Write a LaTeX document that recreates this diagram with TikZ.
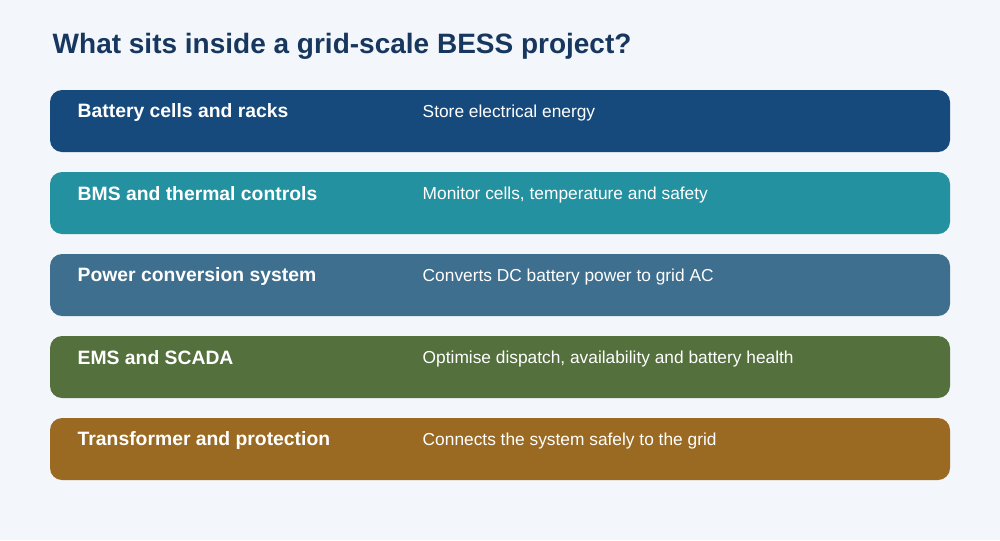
\documentclass[tikz,border=0pt]{standalone}
\usepackage{fontspec}
\setmainfont{Liberation Sans}
\definecolor{bg}{HTML}{F3F6FA}
\definecolor{ttl}{HTML}{17375E}
\definecolor{c1}{HTML}{174A7C}
\definecolor{c2}{HTML}{2391A0}
\definecolor{c3}{HTML}{3E6F8E}
\definecolor{c4}{HTML}{53703D}
\definecolor{c5}{HTML}{9A6A23}
\begin{document}
\begin{tikzpicture}[x=0.75pt,y=-0.75pt,
  row/.style={fill=#1,draw=none,rounded corners=9pt},
  lab/.style={anchor=west,text=white,font=\bfseries\fontsize{14.5}{17}\selectfont},
  desc/.style={anchor=west,text=white,font=\fontsize{13}{15}\selectfont}]
\fill[bg] (0,0) rectangle (1000,540);
\useasboundingbox (0,0) rectangle (1000,540);
\node[anchor=west,text=ttl,font=\bfseries\fontsize{21}{25}\selectfont] (title) at (48,46) {What sits inside a grid-scale BESS project?};
\foreach \i/\c/\a/\b in {0/c1/Battery cells and racks/Store electrical energy,
  1/c2/BMS and thermal controls/{Monitor cells, temperature and safety},
  2/c3/Power conversion system/Converts DC battery power to grid AC,
  3/c4/EMS and SCADA/{Optimise dispatch, availability and battery health},
  4/c5/Transformer and protection/Connects the system safely to the grid}{
  \fill[row=\c] (50,90+82*\i) rectangle (950,152+82*\i);
  \node[lab] (l\i) at (73,112+82*\i) {\a};
  \node[desc] (d\i) at (418,113+82*\i) {\b};
}
\end{tikzpicture}
\end{document}
